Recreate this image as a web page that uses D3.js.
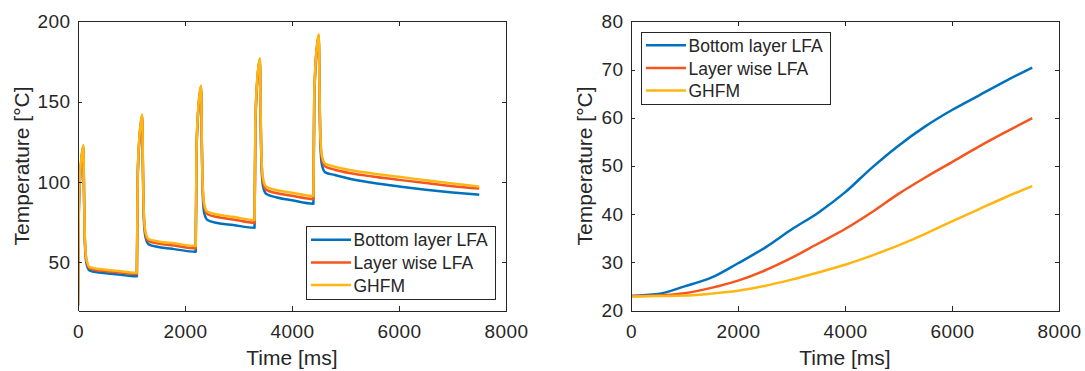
<!DOCTYPE html>
<html>
<head>
<meta charset="utf-8">
<script src="https://cdn.jsdelivr.net/npm/d3@7"></script>
<style>
  body { margin: 0; background: #fff; }
  svg text { font-family: "Liberation Sans", Arial, Helvetica, sans-serif; }
</style>
</head>
<body>
<svg id="chart" width="1085" height="371"></svg>
<script>
// left panel: pulsed heating, temperature per model
var pulseTime = [
    0, 15, 40, 70, 100, 115, 130, 160, 220, 400, 700,
    1100, 1115, 1140, 1170, 1200, 1215, 1230, 1260, 1320, 1500, 1800,
    2200, 2215, 2240, 2270, 2300, 2315, 2330, 2360, 2420, 2600, 2900,
    3300, 3315, 3340, 3370, 3400, 3415, 3430, 3460, 3520, 3700, 4000,
    4400, 4415, 4440, 4470, 4500, 4515, 4530, 4560, 4620, 4800, 5100, 5500, 6000, 6500, 7000, 7500
];
var pulseBottom = [
    23, 80, 103, 115.5, 121.5, 86, 61, 49, 44.8, 43.6, 42.6,
    41.3, 100, 122, 134, 140, 104, 77.5, 66, 61.2, 59.5, 58.2,
    56.6, 117, 140, 152.5, 158.5, 121.5, 94, 80.5, 76.3, 74.5, 73.2,
    71.5, 133, 156.5, 169.5, 175.5, 138, 110, 97, 92.5, 90.5, 88.6,
    86.5, 148, 172, 184.5, 190.5, 152, 124, 110.5, 106, 104.3, 101.8, 99.5, 97.2, 95.2, 93.5, 92.1
];
var pulseLayer = [
    23, 82, 104, 116.5, 122.5, 88, 62.5, 50.6, 46.1, 44.9, 43.9,
    42.7, 101.5, 123.5, 135.5, 141.5, 106, 80.2, 67.9, 63.2, 61.7, 60.4,
    58.7, 118.5, 141, 153.5, 159.5, 123.5, 97.2, 84.6, 79.9, 78.2, 76.7,
    74.6, 135, 158, 170.5, 176.5, 140, 112.8, 99.9, 95.1, 93.1, 91.4,
    89.4, 150, 173, 185.5, 191.5, 154.5, 127.3, 114.4, 109.6, 107.6, 105.4, 103.4, 101.3, 99.3, 97.4, 95.9
];
var pulseGhfm = [
    23, 83, 105, 117, 123, 89, 63.7, 51.6, 47, 45.8, 44.8,
    43.5, 102.6, 124.3, 136.1, 142, 107.1, 81.5, 69.2, 64.5, 63, 61.8,
    60.2, 120, 142, 154, 160, 124.7, 98.8, 86.2, 81.5, 79.8, 78.3,
    76.3, 136.7, 158.9, 171, 177, 141, 114.6, 101.8, 97, 95, 93.3,
    91.3, 151.7, 173.9, 186, 192, 155.8, 129.2, 116.3, 111.5, 109.5, 107.3, 105.3, 103.2, 101.1, 99, 97.1
];

// right panel: slow ramp
var rampTime = [0, 500, 1000, 1500, 2000, 2500, 3000, 3500, 4000, 4500, 5000, 5500, 6000, 6500, 7000, 7500];
var rampBottom = [23.0, 23.4, 25.0, 26.8, 29.8, 33.0, 36.8, 40.3, 44.5, 49.6, 54.2, 58.2, 61.6, 64.6, 67.6, 70.4];
var rampLayer = [23.0, 23.1, 23.6, 24.7, 26.2, 28.3, 30.9, 33.9, 36.9, 40.4, 44.2, 47.6, 50.8, 54.0, 57.0, 59.9];
var rampGhfm = [22.9, 23.0, 23.1, 23.5, 24.1, 25.1, 26.4, 27.9, 29.5, 31.4, 33.5, 35.9, 38.5, 41.0, 43.5, 45.8];

var seriesNames = ["Bottom layer LFA", "Layer wise LFA", "GHFM"];
var seriesColors = ["#0072BD", "#F4561D", "#FFB512"];
var xTicks = [0, 2000, 4000, 6000, 8000];
var leftYTicks = [50, 100, 150, 200];
var rightYTicks = [20, 30, 40, 50, 60, 70, 80];

var svg = d3.select("#chart"),
    axisColor = "#262626",
    plotW = 428,
    plotTop = 21.3,
    plotBottom = 310.5,
    tickLen = 4.3,
    fmt = d3.format("d");

function styleAxis(g, size) {
    g.attr("font-size", size)
        .attr("font-family", "'Liberation Sans', Arial, sans-serif")
        .style("color", axisColor);
    g.select(".domain").attr("stroke-width", 1).attr("shape-rendering", "crispEdges");
    g.selectAll(".tick line").attr("stroke-width", 1).attr("shape-rendering", "crispEdges");
    g.selectAll(".tick text").attr("letter-spacing", 0.4);
}

function drawLegend(g, x0, y0) {
    var lg = g.append("g").attr("transform", "translate(" + x0 + "," + y0 + ")");
    lg.append("rect")
        .attr("width", 189).attr("height", 72.5)
        .attr("fill", "#fff").attr("stroke", "#262626").attr("stroke-width", 1)
        .attr("shape-rendering", "crispEdges");
    var rows = lg.selectAll("g.row").data(seriesNames).enter().append("g")
        .attr("class", "row")
        .attr("transform", function (d, i) { return "translate(0," + (13.3 + i * 22.6) + ")"; });
    rows.append("line")
        .attr("x1", 4.5).attr("x2", 44.5)
        .attr("stroke", function (d, i) { return seriesColors[i]; })
        .attr("stroke-width", 2.5);
    rows.append("text")
        .attr("x", 47).attr("y", 6.6)
        .attr("font-size", 17.5).attr("fill", axisColor)
        .text(function (d) { return d; });
}

function drawPanel(opt) {
    var g = svg.append("g"),
        x = d3.scaleLinear().domain([0, 8000]).range([opt.left, opt.left + plotW]),
        y = d3.scaleLinear().domain(opt.yDomain).range([plotBottom, plotTop]);

    g.append("clipPath").attr("id", opt.id + "-clip")
        .append("rect")
        .attr("x", opt.left).attr("y", plotTop)
        .attr("width", plotW).attr("height", plotBottom - plotTop);

    var line = d3.line()
        .x(function (d) { return x(d[0]); })
        .y(function (d) { return y(d[1]); })
        .curve(d3.curveMonotoneX);

    var lines = g.append("g").attr("clip-path", "url(#" + opt.id + "-clip)");
    opt.series.forEach(function (vals, i) {
        lines.append("path")
            .datum(opt.time.map(function (t, k) { return [t, vals[k]]; }))
            .attr("fill", "none")
            .attr("stroke", seriesColors[i])
            .attr("stroke-width", 2.5)
            .attr("stroke-linejoin", "round")
            .attr("d", line);
    });

    // box with inward ticks on all four sides
    g.append("g").attr("transform", "translate(0," + plotBottom + ")")
        .call(d3.axisBottom(x).tickValues(xTicks).tickFormat(fmt).tickSizeInner(-tickLen).tickSizeOuter(0).tickPadding(14.3))
        .call(styleAxis, 19);
    g.append("g").attr("transform", "translate(0," + plotTop + ")")
        .call(d3.axisTop(x).tickValues(xTicks).tickSizeInner(-tickLen).tickSizeOuter(0).tickFormat(""))
        .call(styleAxis, 19);
    g.append("g").attr("transform", "translate(" + opt.left + ",0)")
        .call(d3.axisLeft(y).tickValues(opt.yTicks).tickFormat(fmt).tickSizeInner(-tickLen).tickSizeOuter(0).tickPadding(7.5))
        .call(styleAxis, 19);
    g.append("g").attr("transform", "translate(" + (opt.left + plotW) + ",0)")
        .call(d3.axisRight(y).tickValues(opt.yTicks).tickSizeInner(-tickLen).tickSizeOuter(0).tickFormat(""))
        .call(styleAxis, 19);

    g.append("text")
        .attr("x", opt.left + plotW / 2).attr("y", 364.5)
        .attr("text-anchor", "middle").attr("font-size", 21).attr("fill", axisColor)
        .text("Time [ms]");
    g.append("text")
        .attr("transform", "translate(" + opt.yLabelX + "," + ((plotTop + plotBottom) / 2) + ") rotate(-90)")
        .attr("text-anchor", "middle").attr("font-size", 21).attr("fill", axisColor)
        .text("Temperature [°C]");

    drawLegend(g, opt.legendX, opt.legendY);
}

drawPanel({
    id: "pulse",
    left: 78,
    yDomain: [20, 200],
    yTicks: leftYTicks,
    time: pulseTime,
    series: [pulseBottom, pulseLayer, pulseGhfm],
    yLabelX: 29,
    legendX: 306.5,
    legendY: 226.5
});

drawPanel({
    id: "ramp",
    left: 631,
    yDomain: [20, 80],
    yTicks: rightYTicks,
    time: rampTime,
    series: [rampBottom, rampLayer, rampGhfm],
    yLabelX: 592,
    legendX: 641.5,
    legendY: 32
});
</script>
</body>
</html>
